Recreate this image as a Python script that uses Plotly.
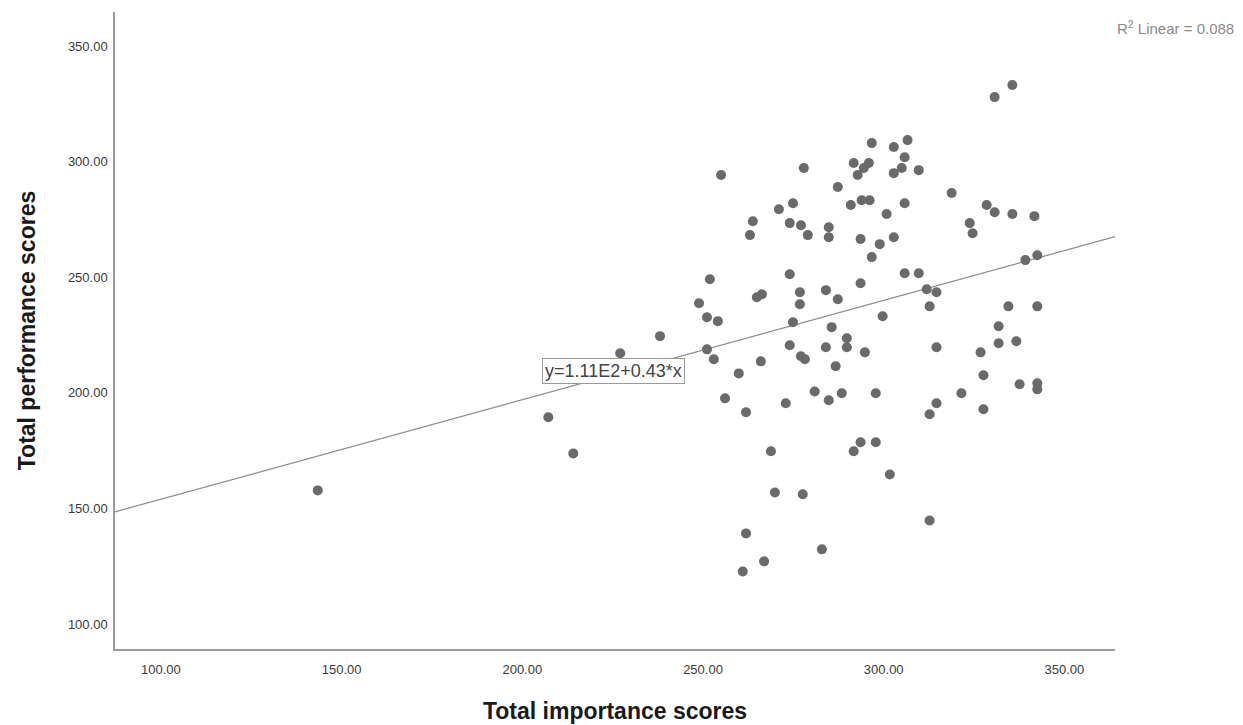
import plotly.graph_objects as go

# Data
importance = [143.4, 207.2, 214.1, 227.1, 238.1, 248.9, 251.1, 251.9, 254.1, 255.0,
              251.1, 253.0, 256.1, 259.9, 261.0, 261.9, 261.9, 263.0, 263.8, 264.9,
              266.3, 266.0, 266.9, 268.8, 269.9, 271.0, 272.9, 274.0, 274.0, 274.0,
              274.9, 274.9, 276.8, 276.8, 277.1, 277.1, 277.6, 277.9, 278.2, 279.0,
              280.9, 282.9, 284.0, 284.0, 284.8, 284.8, 284.8, 285.6, 286.7, 287.3,
              287.3, 288.4, 289.8, 289.8, 290.9, 291.7, 291.7, 292.8, 293.6, 293.6,
              293.6, 293.9, 294.5, 294.8, 295.9, 296.1, 296.7, 296.7, 297.8, 297.8,
              298.9, 299.7, 300.8, 301.7, 302.8, 302.8, 302.8, 305.0, 305.8, 305.8,
              305.8, 306.6, 309.7, 309.7, 311.9, 312.7, 312.7, 312.7, 314.6, 314.6,
              314.6, 318.8, 321.5, 323.8, 324.6, 326.8, 327.6, 327.6, 328.5, 330.7,
              330.7, 331.8, 331.8, 334.5, 335.6, 335.6, 336.7, 337.6, 339.2, 341.7,
              342.5, 342.5, 342.5, 342.5]
performance = [157.8, 189.4, 173.8, 217.1, 224.5, 238.7, 232.7, 249.1, 231.0, 294.2,
               218.8, 214.5, 197.6, 208.4, 122.7, 191.6, 139.2, 268.2, 274.2, 241.3,
               242.6, 213.6, 127.1, 174.7, 156.9, 279.4, 195.5, 273.4, 251.3, 220.6,
               282.0, 230.5, 243.5, 238.3, 272.5, 215.8, 156.1, 297.2, 214.5, 268.2,
               200.6, 132.3, 244.4, 219.7, 271.6, 267.3, 196.8, 228.4, 211.5, 289.0,
               240.5, 199.8, 223.6, 219.7, 281.2, 299.4, 174.7, 294.2, 266.5, 247.4,
               178.6, 283.3, 297.2, 217.5, 299.4, 283.3, 308.0, 258.7, 199.8, 178.6,
               264.3, 233.1, 277.3, 164.7, 306.3, 295.0, 267.3, 297.2, 301.9, 282.0,
               251.7, 309.3, 296.3, 251.7, 244.8, 237.4, 190.7, 144.8, 243.5, 219.7,
               195.5, 286.4, 199.8, 273.4, 269.0, 217.5, 207.6, 192.9, 281.2, 327.9,
               278.1, 228.8, 221.4, 237.4, 333.1, 277.3, 222.3, 203.7, 257.4, 276.4,
               259.5, 237.4, 204.1, 201.5]

fit_intercept = 111.0
fit_slope = 0.43
r_squared = 0.088
x_range = [87.3, 364.0]
y_range = [89.2, 364.7]
tick_values = [100, 150, 200, 250, 300, 350]

FONT = "Liberation Sans, Arial, sans-serif"

fig = go.Figure()

fit_x = x_range
fit_y = [fit_intercept + fit_slope * v for v in fit_x]
fig.add_trace(go.Scatter(
    x=fit_x, y=fit_y, mode="lines",
    line=dict(color="#8c8c8c", width=1.2),
    hoverinfo="skip", showlegend=False,
))

fig.add_trace(go.Scatter(
    x=importance, y=performance, mode="markers",
    marker=dict(color="#6a6a6a", size=10, line=dict(width=0)),
    showlegend=False,
))

fig.add_annotation(
    x=225.1, y=209.5, xref="x", yref="y",
    text="y=1.11E2+0.43*x", showarrow=False,
    font=dict(family=FONT, size=18, color="#444444"),
    bgcolor="white", bordercolor="#9a9a9a", borderwidth=1, borderpad=2,
)

fig.add_annotation(
    x=1.0, y=1.0, xref="paper", yref="paper", xanchor="left", yanchor="middle",
    xshift=0, yshift=-15,
    text=f"R<sup>2</sup> Linear = {r_squared:.3f}", showarrow=False,
    font=dict(family=FONT, size=15, color="#8a8a8a"),
)

axis_common = dict(
    showgrid=False, zeroline=False, showline=True, automargin=False,
    linecolor="#9a9a9a", linewidth=1.5, ticks="",
    tickfont=dict(family=FONT, size=13, color="#3a3a3a"),
    tickformat=".2f", tickvals=tick_values,
)

fig.update_xaxes(range=x_range, title=dict(
    text="<b>Total importance scores</b>", standoff=27,
    font=dict(family=FONT, size=23, color="#1a1a1a")),
    ticklabelstandoff=8, **axis_common)
fig.update_yaxes(range=y_range, title=dict(
    text="<b>Total performance scores</b>", standoff=26,
    font=dict(family=FONT, size=23, color="#1a1a1a")),
    ticklabelstandoff=3, **axis_common)

# page body adds an 8px offset; the figure is sized so the plot lands where the reference has it
fig.update_layout(
    width=1235, height=717,
    margin=dict(l=107, r=128, t=4, b=76),
    plot_bgcolor="white", paper_bgcolor="white",
)

fig.write_html("out.html")
